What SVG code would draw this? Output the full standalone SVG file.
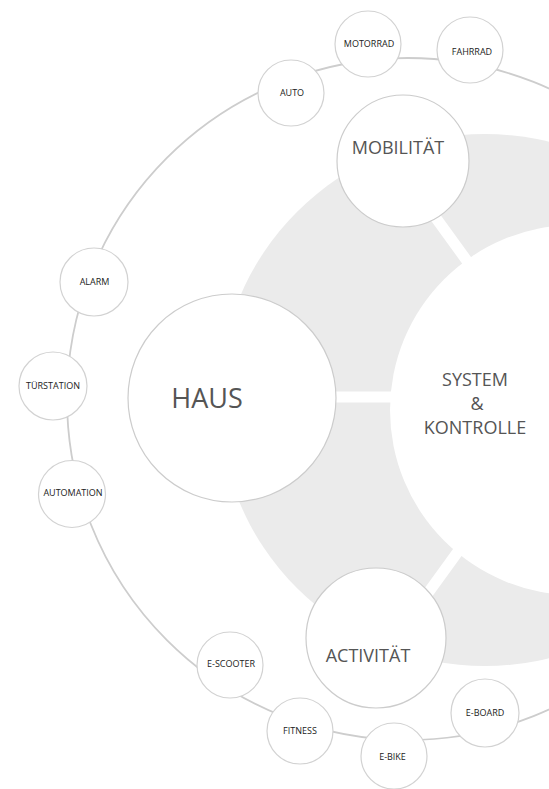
<svg xmlns="http://www.w3.org/2000/svg" width="549" height="789" viewBox="0 0 549 789">
<style>
.bg{fill:#ebebeb}
.gap{stroke:#ffffff;stroke-width:11;fill:none}
.ring{fill:none;stroke:#cdcdcd;stroke-width:1.8}
.big{fill:#ffffff;stroke:#cccccc;stroke-width:1.2}
.small{fill:#ffffff;stroke:#d2d2d2;stroke-width:1.2}
.bt{font-family:"Open Sans","Liberation Sans",sans-serif;fill:#555555;text-anchor:middle}
.st{font-family:"Open Sans","Liberation Sans",sans-serif;font-size:9px;fill:#222222;text-anchor:middle}
</style>
<rect width="549" height="789" fill="#ffffff"/>
<g id="band">
<circle class="bg" cx="485" cy="400" r="266"/>
<circle cx="575" cy="410" r="185" fill="#ffffff"/>
<line class="gap" x1="575" y1="410" x2="399" y2="167"/>
<line class="gap" x1="560" y1="397" x2="300" y2="397"/>
<line class="gap" x1="575" y1="390" x2="399" y2="633"/>
</g>
<g id="connectors">
<circle class="ring" cx="408" cy="399" r="341"/>
</g>
<g id="system">
<text class="bt" font-size="18" x="475" y="386">SYSTEM</text>
<text class="bt" font-size="18" x="477" y="410">&amp;</text>
<text class="bt" font-size="18" x="475" y="434">KONTROLLE</text>
</g>
<g id="haus">
<circle class="big" cx="232" cy="398" r="104"/>
<text class="bt" font-size="27" x="207" y="408">HAUS</text>
</g>
<g id="mobilitaet">
<circle class="big" cx="403" cy="161" r="66"/>
<text class="bt" font-size="18" x="398" y="154">MOBILITÄT</text>
</g>
<g id="activitaet">
<circle class="big" cx="376" cy="638" r="70"/>
<text class="bt" font-size="18" x="368" y="662">ACTIVITÄT</text>
</g>
<g id="auto"><circle class="small" cx="291" cy="93" r="33"/><text class="st" x="292" y="96">AUTO</text></g>
<g id="motorrad"><circle class="small" cx="368" cy="44" r="33"/><text class="st" x="369" y="47">MOTORRAD</text></g>
<g id="fahrrad"><circle class="small" cx="470" cy="50" r="33"/><text class="st" x="472" y="55">FAHRRAD</text></g>
<g id="alarm"><circle class="small" cx="94" cy="282" r="34"/><text class="st" x="94.5" y="285">ALARM</text></g>
<g id="tuerstation"><circle class="small" cx="53" cy="386" r="34"/><text class="st" x="53" y="389">TÜRSTATION</text></g>
<g id="automation"><circle class="small" cx="72" cy="494" r="33.5"/><text class="st" x="73" y="496">AUTOMATION</text></g>
<g id="escooter"><circle class="small" cx="230" cy="665" r="33"/><text class="st" x="231" y="667">E-SCOOTER</text></g>
<g id="fitness"><circle class="small" cx="300" cy="731" r="33"/><text class="st" x="300" y="734">FITNESS</text></g>
<g id="ebike"><circle class="small" cx="394" cy="756" r="33"/><text class="st" x="392.5" y="760">E-BIKE</text></g>
<g id="eboard"><circle class="small" cx="485" cy="713" r="34"/><text class="st" x="485" y="716">E-BOARD</text></g>
</svg>
